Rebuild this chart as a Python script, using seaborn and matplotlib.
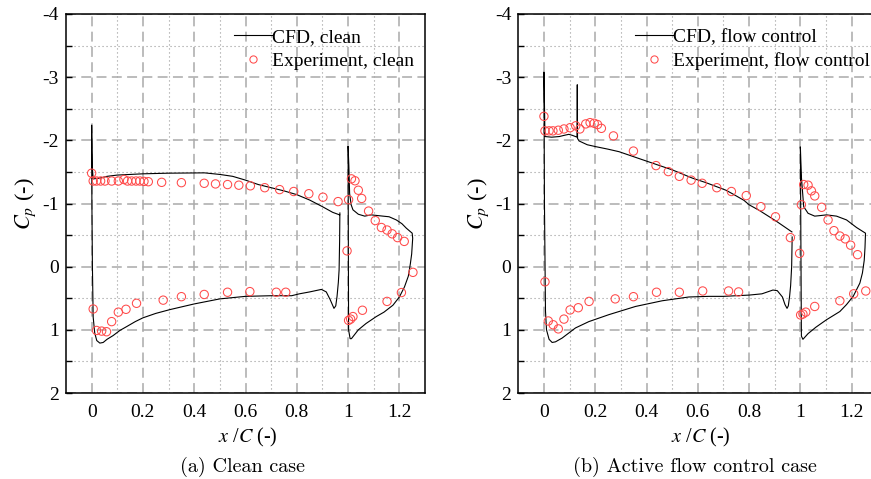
import numpy as np
import pandas as pd
import matplotlib
matplotlib.use("Agg")
import matplotlib.pyplot as plt
from matplotlib.ticker import FixedLocator
from matplotlib.lines import Line2D
import seaborn as sns

# ---------------- data ----------------
# Clean case, CFD main element (closed contour: upper TE -> LE -> lower -> TE)
clean_main_x = [0.967, 0.94, 0.90, 0.85, 0.80, 0.75, 0.70, 0.65, 0.60, 0.55, 0.50, 0.44,
                0.30, 0.20, 0.10, 0.06, 0.03, 0.006, 0.002, 0.0,
                0.001, 0.003, 0.006, 0.012, 0.02, 0.032, 0.045, 0.06, 0.084, 0.11, 0.136,
                0.17, 0.20, 0.25, 0.305, 0.40, 0.50, 0.60, 0.70, 0.78, 0.81, 0.85, 0.896,
                0.915, 0.93, 0.945, 0.952, 0.957, 0.962, 0.965, 0.967, 0.968]
clean_main_cp = [-0.82, -0.86, -0.95, -1.055, -1.14, -1.20, -1.25, -1.30, -1.37, -1.43, -1.46, -1.485,
                 -1.48, -1.47, -1.45, -1.43, -1.40, -1.39, -1.60, -2.24,
                 -1.0, 0.0, 0.80, 1.05, 1.17, 1.21, 1.20, 1.15, 1.09, 1.01, 0.95,
                 0.87, 0.81, 0.74, 0.68, 0.59, 0.51, 0.47, 0.46, 0.46, 0.43, 0.40, 0.36,
                 0.40, 0.52, 0.66, 0.62, 0.47, 0.25, 0.05, -0.40, -0.85]
# Clean case, CFD flap
clean_flap_x = [1.0, 1.003, 1.006, 1.012, 1.019, 1.04, 1.065, 1.09, 1.136, 1.16, 1.188, 1.21,
                1.227, 1.25, 1.252, 1.248, 1.243, 1.235, 1.22, 1.20, 1.175, 1.14, 1.11,
                1.07, 1.04, 1.013, 1.008, 1.002, 1.0]
clean_flap_cp = [-1.90, -1.60, -1.16, -0.98, -0.90, -0.83, -0.80, -0.82, -0.80, -0.79, -0.74, -0.68,
                 -0.61, -0.53, -0.45, -0.20, -0.05, 0.15, 0.32, 0.48, 0.61, 0.72, 0.79,
                 0.90, 1.00, 1.14, 1.14, 1.00, -1.90]
# Clean case, experiment
clean_exp_x = [0.0, 0.006, 0.019, 0.035, 0.052, 0.078, 0.104, 0.126, 0.140, 0.156, 0.173, 0.188,
               0.204, 0.221, 0.273, 0.35, 0.439, 0.483, 0.53, 0.574, 0.619, 0.675, 0.733, 0.788,
               0.847, 0.902, 0.961,
               1.002, 1.013, 1.027, 1.04, 1.053, 1.08, 1.106, 1.13, 1.152, 1.172, 1.193, 1.219,
               0.996, 1.253, 1.208, 1.152, 1.056, 1.019, 1.01, 1.002,
               0.006, 0.019, 0.039, 0.058, 0.078, 0.104, 0.134, 0.175, 0.279, 0.35, 0.439,
               0.53, 0.617, 0.72, 0.757]
clean_exp_cp = [-1.48, -1.356, -1.356, -1.356, -1.356, -1.356, -1.356, -1.38, -1.356, -1.356, -1.356, -1.356,
                -1.35, -1.345, -1.335, -1.33, -1.32, -1.31, -1.30, -1.29, -1.28, -1.25, -1.22, -1.19,
                -1.155, -1.10, -1.03,
                -1.06, -1.39, -1.36, -1.21, -1.08, -0.88, -0.73, -0.62, -0.58, -0.52, -0.46, -0.40,
                -0.25, 0.09, 0.41, 0.55, 0.69, 0.79, 0.83, 0.85,
                0.67, 1.01, 1.02, 1.03, 0.87, 0.72, 0.675, 0.58, 0.53, 0.475, 0.44,
                0.405, 0.395, 0.405, 0.405]

# Flow control case, CFD main element
fc_main_x = [0.967, 0.906, 0.84, 0.80, 0.78, 0.737, 0.71, 0.632, 0.58, 0.502, 0.437, 0.372,
             0.293, 0.25, 0.202, 0.169, 0.137, 0.131, 0.130, 0.129, 0.123, 0.11, 0.097, 0.08,
             0.06, 0.03, 0.004, 0.0,
             0.002, 0.006, 0.01, 0.02, 0.032, 0.045, 0.071, 0.123, 0.175, 0.253, 0.357, 0.461,
             0.565, 0.643, 0.70, 0.80, 0.85, 0.893, 0.91, 0.93, 0.94, 0.948, 0.953, 0.958,
             0.962, 0.966, 0.968]
fc_main_cp = [-0.55, -0.72, -0.89, -0.98, -1.05, -1.15, -1.21, -1.33, -1.40, -1.53, -1.62, -1.71,
              -1.82, -1.86, -1.90, -1.93, -1.99, -2.03, -2.88, -2.05, -2.06, -2.08, -2.095, -2.08,
              -2.06, -2.05, -2.06, -3.08,
              -1.0, 0.70, 1.00, 1.15, 1.20, 1.19, 1.13, 0.97, 0.87, 0.76, 0.63, 0.54,
              0.48, 0.47, 0.47, 0.45, 0.43, 0.37, 0.38, 0.48, 0.60, 0.66, 0.62, 0.47,
              0.30, 0.0, -0.47]
# Flow control case, CFD flap
fc_flap_x = [1.0, 1.004, 1.013, 1.03, 1.056, 1.08, 1.102, 1.141, 1.18, 1.219, 1.254, 1.252,
             1.249, 1.242, 1.232, 1.206, 1.18, 1.154, 1.102, 1.06, 1.03, 1.01, 1.004, 1.0]
fc_flap_cp = [-1.89, -1.42, -0.95, -0.845, -0.80, -0.81, -0.82, -0.80, -0.74, -0.62, -0.53, -0.30,
              -0.10, 0.10, 0.26, 0.47, 0.60, 0.71, 0.84, 0.96, 1.06, 1.15, 1.10, -1.89]
# Flow control case, experiment
fc_exp_x = [0.0, 0.004, 0.02, 0.035, 0.056, 0.078, 0.102, 0.124, 0.14, 0.163, 0.18, 0.196,
            0.209, 0.224, 0.271, 0.349, 0.437, 0.485, 0.528, 0.574, 0.617, 0.674, 0.731,
            0.789, 0.846, 0.903, 0.961,
            0.997, 1.004, 1.013, 1.03, 1.043, 1.056, 1.083, 1.108, 1.131, 1.154, 1.175, 1.196, 1.223,
            1.255, 1.208, 1.154, 1.056, 1.021, 1.01, 1.001,
            0.004, 0.017, 0.036, 0.056, 0.078, 0.102, 0.134, 0.176, 0.278, 0.349, 0.439,
            0.528, 0.619, 0.72, 0.759]
fc_exp_cp = [-2.38, -2.15, -2.15, -2.15, -2.16, -2.18, -2.20, -2.23, -2.18, -2.26, -2.28, -2.27,
             -2.25, -2.19, -2.07, -1.83, -1.60, -1.505, -1.43, -1.37, -1.32, -1.25, -1.19,
             -1.125, -0.95, -0.79, -0.46,
             -0.21, -0.98, -1.30, -1.29, -1.20, -1.12, -0.94, -0.74, -0.57, -0.485, -0.44, -0.34, -0.19,
             0.385, 0.43, 0.54, 0.63, 0.72, 0.75, 0.765,
             0.24, 0.86, 0.92, 0.985, 0.83, 0.685, 0.65, 0.55, 0.51, 0.475, 0.405,
             0.405, 0.385, 0.385, 0.40]

x_ticks = [0, 0.2, 0.4, 0.6, 0.8, 1.0, 1.2]
x_tick_labels = ["0", "0.2", "0.4", "0.6", "0.8", "1", "1.2"]
y_ticks = [-4, -3, -2, -1, 0, 1, 2]
y_tick_labels = ["-4", "-3", "-2", "-1", "0", "1", "2"]

panels = [
    dict(main=(clean_main_x, clean_main_cp), flap=(clean_flap_x, clean_flap_cp),
         exp=(clean_exp_x, clean_exp_cp), cfd_label="CFD, clean",
         exp_label="Experiment, clean", caption="(a) Clean case"),
    dict(main=(fc_main_x, fc_main_cp), flap=(fc_flap_x, fc_flap_cp),
         exp=(fc_exp_x, fc_exp_cp), cfd_label="CFD, flow control",
         exp_label="Experiment, flow control", caption="(b) Active flow control case"),
]

# ---------------- style ----------------
plt.rcParams["font.family"] = ["Liberation Serif", "DejaVu Serif"]
plt.rcParams["mathtext.fontset"] = "stix"
plt.rcParams["axes.unicode_minus"] = False

W, H = 871, 479
fig = plt.figure(figsize=(W / 100, H / 100), dpi=100)

ax_left_px = [66, 518.3]
ax_w_px = 359
ax_top_px, ax_bot_px = 14, 393
legend_x_px = [234, 635]
xlabel_cx = [247.5, 701]
caption_cx = [242.5, 695]

red = "#ff4a4a"

for i, p in enumerate(panels):
    ax = fig.add_axes([ax_left_px[i] / W, 1 - ax_bot_px / H, ax_w_px / W,
                       (ax_bot_px - ax_top_px) / H])
    cfd = pd.DataFrame({
        "x": list(p["main"][0]) + list(p["flap"][0]),
        "cp": list(p["main"][1]) + list(p["flap"][1]),
        "seg": ["main"] * len(p["main"][0]) + ["flap"] * len(p["flap"][0]),
    })
    exp = pd.DataFrame({"x": p["exp"][0], "cp": p["exp"][1]})

    sns.lineplot(data=cfd, x="x", y="cp", units="seg", estimator=None, sort=False,
                 color="black", linewidth=0.8, ax=ax, legend=False, zorder=3)
    sns.scatterplot(data=exp, x="x", y="cp", marker="o", s=36, facecolors="none",
                    edgecolors=red, linewidths=0.75, ax=ax, legend=False, zorder=4)

    ax.set_xlim(-0.1, 1.3)
    ax.set_ylim(2, -4)
    ax.xaxis.set_major_locator(FixedLocator(x_ticks))
    ax.set_xticklabels(x_tick_labels)
    ax.xaxis.set_minor_locator(FixedLocator([0.1, 0.3, 0.5, 0.7, 0.9, 1.1]))
    ax.yaxis.set_major_locator(FixedLocator(y_ticks))
    ax.set_yticklabels(y_tick_labels)
    ax.yaxis.set_minor_locator(FixedLocator([-3.5, -2.5, -1.5, -0.5, 0.5, 1.5]))

    ax.grid(which="major", color="#aaaaaa", linewidth=1.1, linestyle=(0, (6.5, 3.5)), zorder=0)
    ax.grid(which="minor", color="#999999", linewidth=0.8, linestyle=(0, (1, 2.6)), zorder=0)
    ax.set_axisbelow(True)
    ax.tick_params(axis="y", which="both", direction="in", length=4, width=1.0,
                   labelsize=14, pad=5, right=False)
    ax.tick_params(axis="x", which="both", direction="in", length=0,
                   labelsize=14, pad=8)
    for sp in ax.spines.values():
        sp.set_linewidth(1.1)
        sp.set_color("black")

    ax.set_xlabel("")
    ax.set_ylabel(r"$C_p$ (-)", fontsize=16, labelpad=0)
    ax.yaxis.set_label_coords(-0.077, 0.5)

    handles = [Line2D([], [], color="black", linewidth=0.8),
               Line2D([], [], color=red, marker="o", linestyle="none", markersize=5.2,
                      markerfacecolor="none", markeredgewidth=0.75)]
    ax.legend(handles, [p["cfd_label"], p["exp_label"]], loc="upper left",
              bbox_to_anchor=((legend_x_px[i] - ax_left_px[i]) / ax_w_px,
                              (ax_bot_px - 28) / (ax_bot_px - ax_top_px)),
              frameon=False, fontsize=14, handlelength=1.95, handletextpad=0.0,
              borderpad=0, borderaxespad=0, labelspacing=0.33, numpoints=1)

    fig.text(xlabel_cx[i] / W, 1 - 437 / H, r"$x$ /$C$ (-)", ha="center", va="center",
             fontsize=14.5)
    fig.text(caption_cx[i] / W, 1 - 467 / H, p["caption"], ha="center", va="center",
             fontsize=14.5, family="cmr10")

fig.savefig("out.png", dpi=100)
